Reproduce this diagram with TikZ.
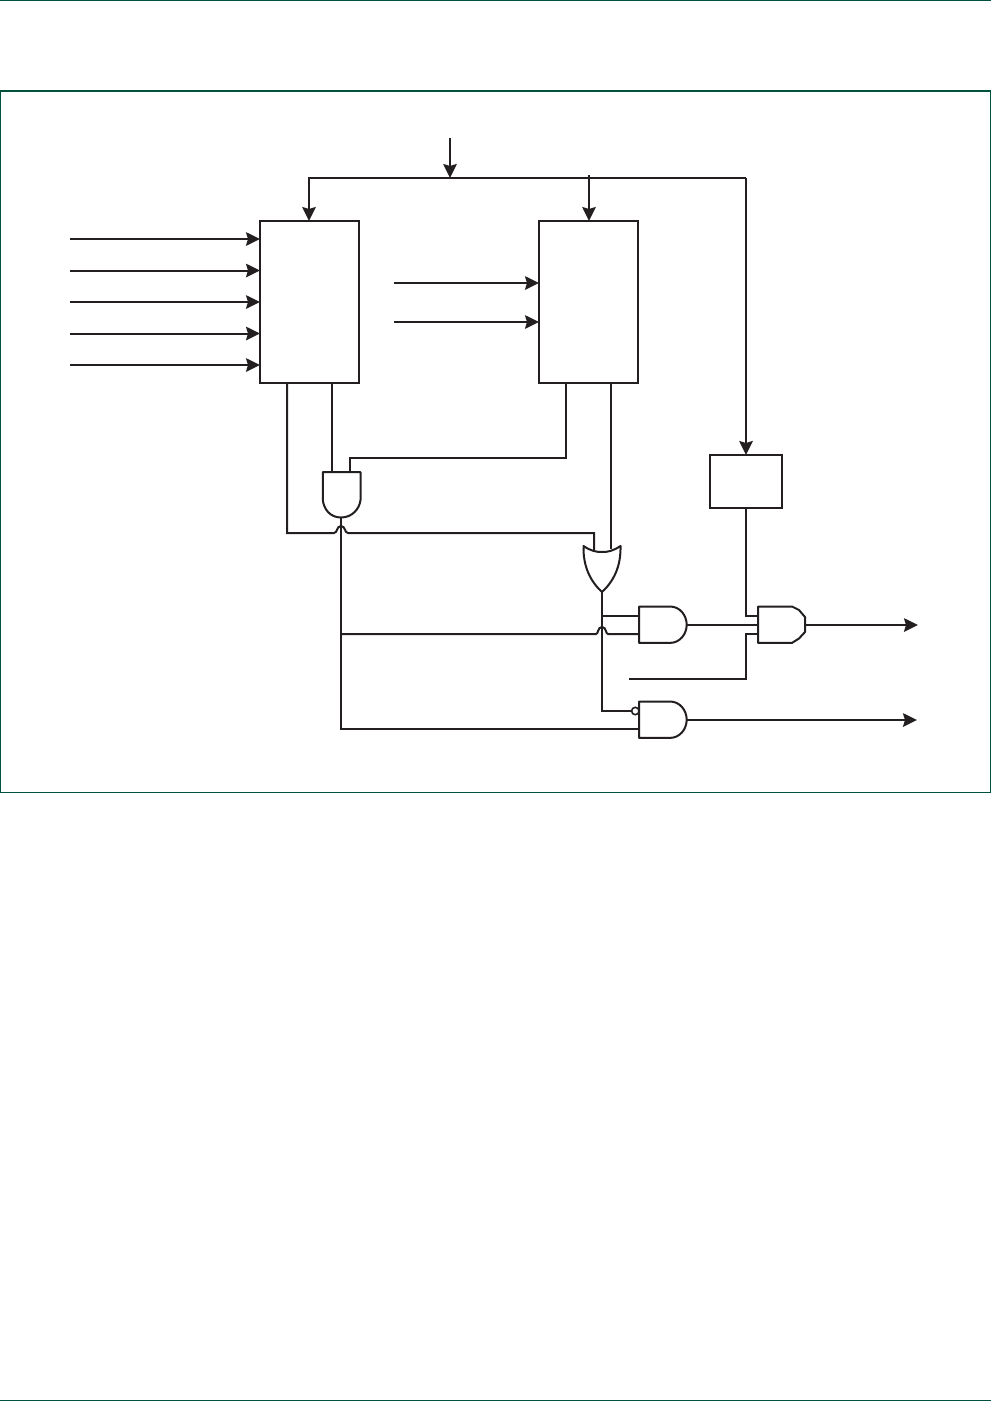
\documentclass[tikz,border=0pt]{standalone}
\usetikzlibrary{arrows.meta}
\definecolor{ink}{HTML}{231F20}
\definecolor{frame}{HTML}{00523F}
\tikzset{
  x=1pt,y=-1pt,
  wire/.style={draw=ink,line width=2pt,line join=miter},
  sig/.style={wire,-{Stealth[length=14pt,width=13.5pt,inset=2pt]}},
  blockbox/.style={draw=ink,line width=2pt,fill=white,inner sep=0pt,outer sep=0pt,minimum width=#1},
  gateshape/.style={draw=ink,line width=2pt,fill=white,line join=round},
  frameline/.style={draw=frame,line width=1.5pt},
}
\begin{document}
\begin{tikzpicture}
\useasboundingbox (0,0) rectangle (991,1401);
% page rules and frame
\draw[frameline] (0,0.6) -- (991,0.6);
\draw[frameline] (0,1400.3) -- (991,1400.3);
\draw[frameline] (0.7,91) rectangle (990.3,792.5);
% blocks
\node[blockbox=99pt,minimum height=162pt] (A) at (309.5,302) {};
\node[blockbox=99pt,minimum height=162pt] (B) at (588.5,302) {};
\node[blockbox=72pt,minimum height=53pt] (C) at (746,481.5) {};
% free ends
\coordinate (top) at (450,138);
\coordinate (busL) at (309,178);
\coordinate (busM) at (450,178);
\coordinate (busT) at (589,175);
\coordinate (busR) at (746,178);
\foreach \n/\y in {1/239,2/270.5,3/302,4/333.5,5/365}{
  \coordinate (ai\n) at (70,\y);
  \draw[sig] (ai\n) -- (ai\n -| A.west);
}
\foreach \n/\y in {1/283,2/322}{
  \coordinate (bi\n) at (394,\y);
  \draw[sig] (bi\n) -- (bi\n -| B.west);
}
% clock bus
\draw[sig] (top) -- (busM);
\draw[sig] (busR) -- (busL) -- (busL |- A.north);
\draw[sig] (busT) -- (busT |- B.north);
\draw[sig] (busR) -- (C.north);
% gate pins
\coordinate (g1a) at (332,472);
\coordinate (g1b) at (350,472);
\coordinate (g1o) at (341,518);
\coordinate (g2a) at (594,550);
\coordinate (g2b) at (611,549);
\coordinate (g2o) at (602,592);
\coordinate (g3a) at (639,616);
\coordinate (g3b) at (639,634);
\coordinate (g3o) at (687,625);
\coordinate (g4a) at (758,616);
\coordinate (g4b) at (758,634);
\coordinate (g4m) at (758,625);
\coordinate (g4o) at (805,625);
\coordinate (g5a) at (632,711);
\coordinate (g5b) at (639,729);
\coordinate (g5o) at (687,720);
\coordinate (out1) at (918,625);
\coordinate (out2) at (917,720);
\coordinate (en) at (629,679);
% wires
\draw[wire] (g1a |- A.south) -- (g1a);
\draw[wire] (566,383) -- (566,458) -- (350,458) -- (g1b);
\draw[wire] (287,383) -- (287,533) -- (334,533)
   .. controls (337.5,533) and (336.5,526) .. (341,526)
   .. controls (345.5,526) and (344.5,533) .. (348,533)
   -- (594,533) -- (g2a);
\draw[wire] (g2b |- B.south) -- (g2b);
\draw[wire] (g1o) -- (341,729) -- (g5b);
\draw[wire] (341,634) -- (596,634)
   .. controls (598.5,634) and (597.5,627) .. (602,627)
   .. controls (606.5,627) and (605.5,634) .. (608,634)
   -- (g3b);
\draw[wire] (g2o) -- (602,711) -- (g5a);
\draw[wire] (602,616) -- (g3a);
\draw[wire] (g3o) -- (g4m);
\draw[wire] (C.south) -- (746,616) -- (g4a);
\draw[wire] (en) -- (746,679) -- (746,634) -- (g4b);
\draw[sig] (g4o) -- (out1);
\draw[sig] (g5o) -- (out2);
% gates
\draw[gateshape] (322.8,472) -- (360.5,472) -- (360.5,500)
   .. controls (359.5,509) and (352,517.5) .. (341,517.5)
   .. controls (330,517.5) and (323.8,509) .. (322.8,500) -- cycle;
\draw[gateshape] (583.5,546) .. controls (591,551) and (596,552) .. (602,552)
   .. controls (608,552) and (613,551) .. (620.5,546)
   .. controls (621,566) and (614,581) .. (602,592)
   .. controls (590,581) and (583,566) .. (583.5,546) -- cycle;
\foreach \y in {606.5,701.5}{
\draw[gateshape] (639,\y) -- (670,\y)
   .. controls (680,\y) and (686.7,\y+9) .. (686.7,\y+18.2)
   .. controls (686.7,\y+27.4) and (680,\y+36.4) .. (670,\y+36.4)
   -- (639,\y+36.4) -- cycle;
}
\draw[gateshape] (758,606.5) -- (792,606.5) -- (799,610) -- (805,617) -- (805,632) -- (799,638.5) -- (792,642.9) -- (758,642.9) -- cycle;
\draw[draw=ink,line width=1.6pt,fill=white] (635.3,711) circle (3.7pt);
\end{tikzpicture}
\end{document}
